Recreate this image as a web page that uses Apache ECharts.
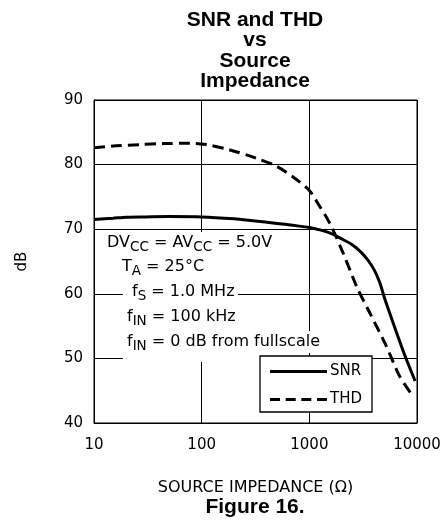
<!DOCTYPE html>
<html>
<head>
<meta charset="utf-8">
<script src="https://cdn.jsdelivr.net/npm/echarts@6/dist/echarts.min.js"></script>
<style>
  html, body { margin: 0; padding: 0; background: #fff; }
  #chart { width: 446px; height: 527px; }
</style>
</head>
<body>
<div id="chart"></div>
<script>
// ---- data ----
const snrX = [10, 15, 20, 30, 50, 100, 200, 300, 500, 700, 1000, 1500, 2000, 2500, 3000, 3500, 4000, 4500, 5000, 6000, 7500, 9600];
const snrY = [71.5, 71.7, 71.85, 71.9, 71.95, 71.9, 71.6, 71.3, 70.9, 70.6, 70.25, 69.5, 68.5, 67.6, 66.5, 65.2, 63.7, 61.8, 59.3, 55.5, 51.0, 46.5];
const thdX = [10, 16, 27, 44, 78, 110, 180, 320, 500, 760, 1000, 1170, 1550, 2060, 2740, 3630, 5190, 6870, 9300];
const thdY = [82.6, 82.9, 83.1, 83.25, 83.3, 83.1, 82.3, 81.0, 79.7, 77.7, 76.0, 74.3, 70.9, 66.3, 61.2, 57.1, 51.9, 47.3, 44.0];
const xTickLabels = ['10', '100', '1000', '10000'];
const yTicks = [40, 50, 60, 70, 80, 90];
const seriesNames = ['SNR', 'THD'];
const titleText = 'SNR and THD\nvs\nSource\nImpedance';
const xAxisName = 'SOURCE IMPEDANCE (\u03A9)';
const yAxisName = 'dB';
const figureCaption = 'Figure 16.';
const conditionLines = [
  '{n|DV}{s|CC}{n| = AV}{s|CC}{n| = 5.0V}',
  '{n|T}{s|A}{n| = 25\u00B0C}',
  '{n|f}{s|S}{n| = 1.0 MHz}',
  '{n|f}{s|IN}{n| = 100 kHz}',
  '{n|f}{s|IN}{n| = 0 dB from fullscale}'
];

const FONT = 'DejaVu Sans';
const chart = echarts.init(document.getElementById('chart'), null, { renderer: 'canvas' });

const richStyle = {
  n: { fontFamily: FONT, fontSize: 16, color: '#000' },
  s: { fontFamily: FONT, fontSize: 13.5, color: '#000', padding: [8, 0, 0, 0] }
};
const linePos = [[105, 243], [120, 267], [130, 292], [125, 317], [125, 342]];
const condGraphics = conditionLines.map((t, i) => ({
  type: 'text',
  x: linePos[i][0],
  y: linePos[i][1],
  z: 20,
  style: {
    text: t,
    rich: richStyle,
    fontFamily: FONT,
    fontSize: 16,
    fill: '#000',
    textAlign: 'left',
    textVerticalAlign: 'middle',
    backgroundColor: '#fff',
    padding: [0, 2, 0, 2]
  }
}));

const solidIcon = 'path://M0,0h57v3h-57z';
const dashIcon = 'path://M0,0h10v3h-10zM15.7,0h10v3h-10zM31.3,0h10v3h-10zM47,0h10v3h-10z';

const option = {
  animation: false,
  backgroundColor: '#fff',
  grid: {
    left: 94, right: 29, top: 100, bottom: 104,
    show: true, borderColor: '#000', borderWidth: 1
  },
  legend: {
    data: [
      { name: seriesNames[0], icon: solidIcon },
      { name: seriesNames[1], icon: dashIcon }
    ],
    orient: 'vertical',
    left: 260,
    top: 356,
    itemWidth: 57,
    itemHeight: 3,
    itemGap: 13,
    padding: [8, 10, 5, 10],
    backgroundColor: '#fff',
    borderColor: '#000',
    borderWidth: 1.3,
    borderRadius: 0,
    itemStyle: { color: '#000', borderWidth: 0 },
    textStyle: { fontFamily: FONT, fontSize: 15, color: '#000', padding: [0, 0, 0, -2] },
    z: 30
  },
  xAxis: {
    type: 'log',
    logBase: 10,
    min: 10,
    max: 10000,
    name: xAxisName,
    nameLocation: 'middle',
    nameGap: 57,
    nameTextStyle: { fontFamily: FONT, fontSize: 16, color: '#000' },
    axisLine: { show: true, lineStyle: { color: '#000', width: 1 } },
    axisTick: { show: false },
    minorTick: { show: false },
    axisLabel: {
      color: '#000', fontFamily: FONT, fontSize: 15, margin: 15,
      formatter: v => xTickLabels[Math.round(Math.log10(v)) - 1] || ''
    },
    splitLine: { show: true, lineStyle: { color: '#000', width: 1 } }
  },
  yAxis: {
    type: 'value',
    min: yTicks[0],
    max: yTicks[yTicks.length - 1],
    interval: 10,
    name: yAxisName,
    nameLocation: 'middle',
    nameGap: 64,
    nameTextStyle: { fontFamily: FONT, fontSize: 15, color: '#000' },
    axisLine: { show: true, lineStyle: { color: '#000', width: 1 } },
    axisTick: { show: false },
    axisLabel: { color: '#000', fontFamily: FONT, fontSize: 15, margin: 11 },
    splitLine: { show: true, lineStyle: { color: '#000', width: 1 } }
  },
  series: [
    {
      name: seriesNames[0],
      type: 'line',
      data: snrX.map((x, i) => [x, snrY[i]]),
      symbol: 'none',
      smooth: 0.3,
      lineStyle: { color: '#000', width: 3 },
      itemStyle: { color: '#000' },
      z: 5
    },
    {
      name: seriesNames[1],
      type: 'line',
      data: thdX.map((x, i) => [x, thdY[i]]),
      symbol: 'none',
      smooth: 0.3,
      lineStyle: { color: '#000', width: 3, type: [11, 6] },
      itemStyle: { color: '#000' },
      z: 5
    }
  ],
  graphic: [
    {
      type: 'text', x: 255, y: 10, z: 20,
      style: {
        text: titleText,
        fontFamily: 'Liberation Sans', fontWeight: 'bold', fontSize: 21,
        lineHeight: 20.3, fill: '#000',
        textAlign: 'center', textVerticalAlign: 'top'
      }
    },
    {
      type: 'text', x: 255, y: 507, z: 20,
      style: {
        text: figureCaption,
        fontFamily: 'Liberation Sans', fontWeight: 'bold', fontSize: 21,
        fill: '#000', textAlign: 'center', textVerticalAlign: 'middle'
      }
    },
    { type: 'rect', z: 15, shape: { x: 123, y: 234, width: 115, height: 66 }, style: { fill: '#fff' } },
    { type: 'rect', z: 15, shape: { x: 123, y: 300, width: 139, height: 62 }, style: { fill: '#fff' } }
  ].concat(condGraphics)
};
chart.setOption(option);
</script>
</body>
</html>
